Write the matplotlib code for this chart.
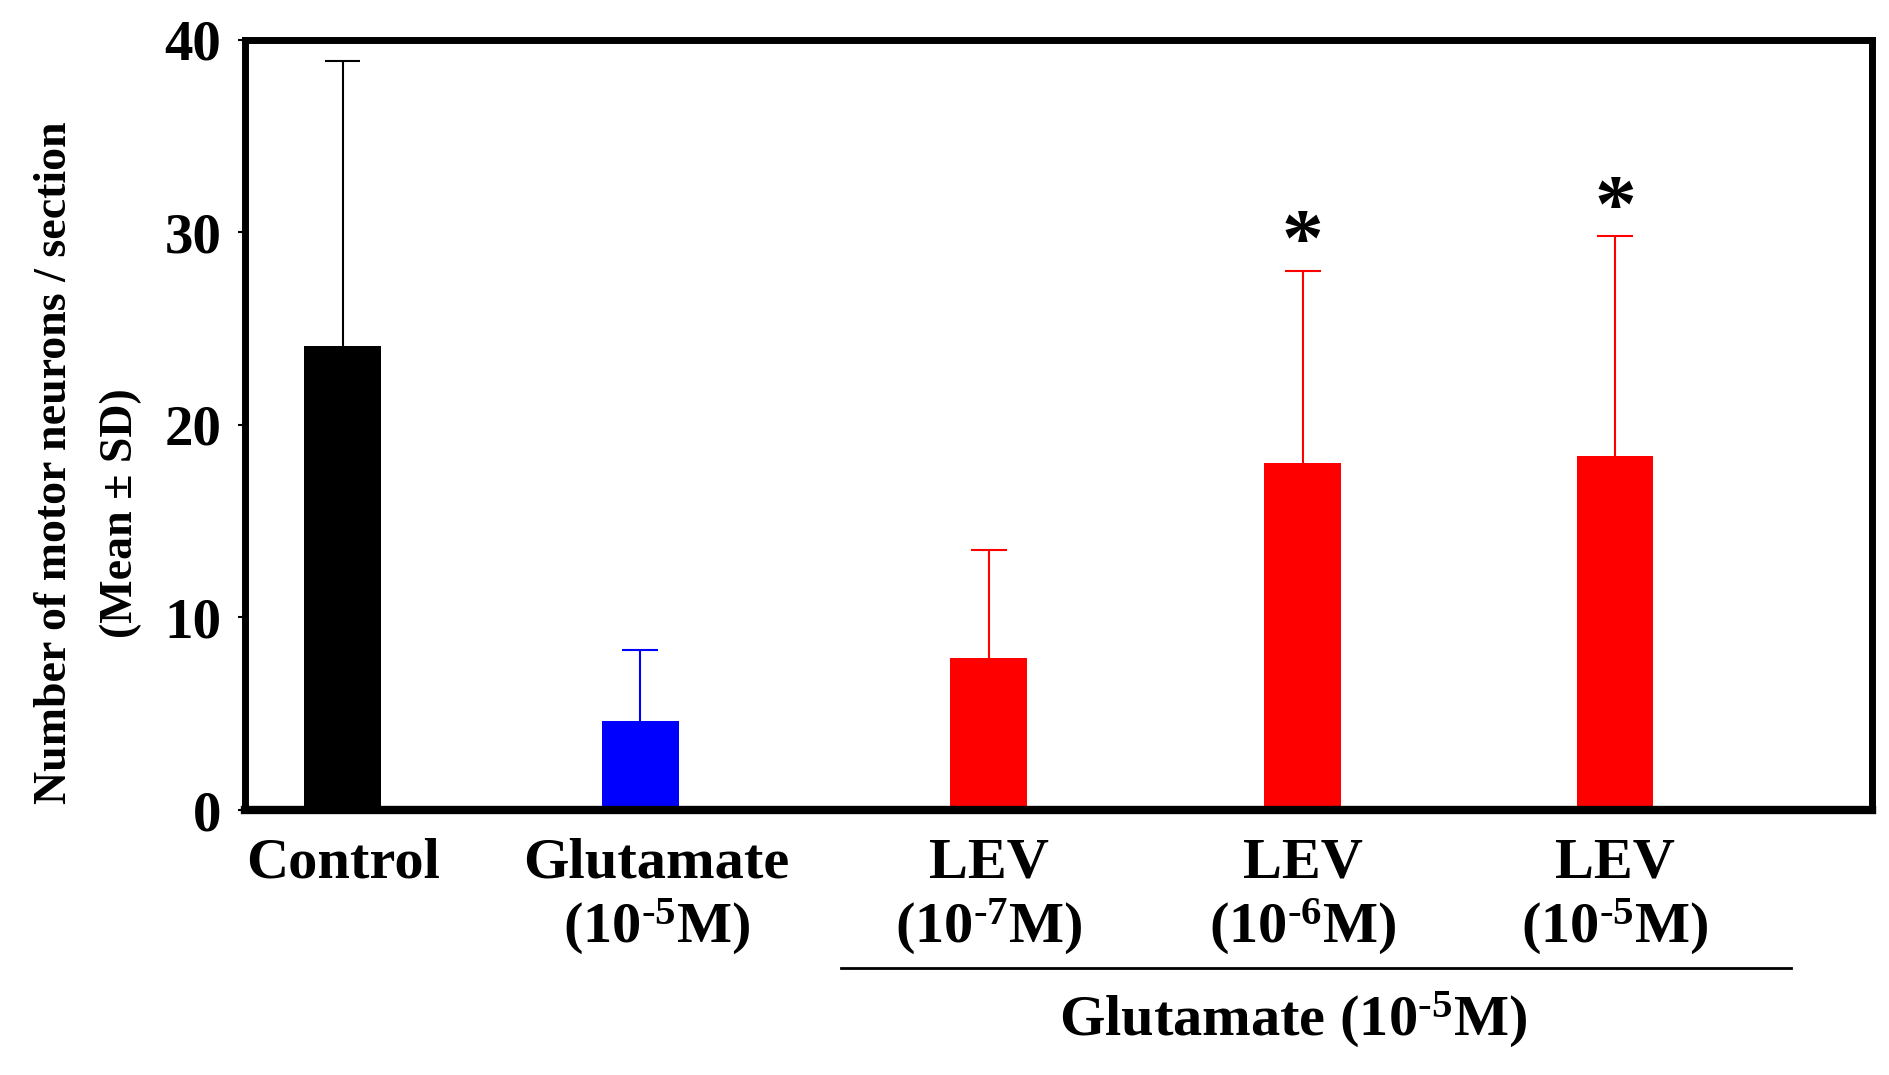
import matplotlib.pyplot as plt
from matplotlib.transforms import ScaledTranslation

plt.rcParams["font.family"] = "Liberation Serif"
plt.rcParams["font.weight"] = "bold"
plt.rcParams["mathtext.fontset"] = "custom"
plt.rcParams["mathtext.rm"] = "Liberation Serif:bold"
plt.rcParams["mathtext.bf"] = "Liberation Serif:bold"
plt.rcParams["mathtext.it"] = "Liberation Serif:bold"

# Data
groups = ["Control", "Glutamate\n(10$^{\\text{-5}}$M)", "LEV\n(10$^{\\text{-7}}$M)",
          "LEV\n(10$^{\\text{-6}}$M)", "LEV\n(10$^{\\text{-5}}$M)"]
means = [24.1, 4.6, 7.9, 18.0, 18.4]
sds = [14.8, 3.7, 5.6, 10.0, 11.4]
colors = ["black", "#0000ff", "#ff0000", "#ff0000", "#ff0000"]
significant = [False, False, False, True, True]
positions = [0.6, 2.43, 4.57, 6.5, 8.42]

fig = plt.figure(figsize=(18.9, 10.75), dpi=100)
ax = fig.add_axes([0.1296, 0.2465, 0.861, 0.7165])

cap = 0.11
for x, m, s, c, sig in zip(positions, means, sds, colors, significant):
    ax.bar(x, m, width=0.47, color=c, zorder=2)
    # upper-only error bar
    ax.vlines(x, m, m + s, color=c, lw=1.5, zorder=3)
    ax.hlines(m + s, x - cap, x + cap, color=c, lw=1.5, zorder=3)
    if sig:
        ax.text(x, m + s + 1.3, "*", ha="center", va="center",
                fontsize=60, fontweight="bold")

ax.set_xlim(0, 10)
ax.set_ylim(0, 40)
ax.set_yticks([0, 10, 20, 30, 40])
ax.set_xticks(positions)
ax.set_xticklabels(groups, fontsize=42, fontweight="bold", linespacing=1.15)
ax.tick_params(axis="x", length=0, pad=20)
ax.tick_params(axis="y", labelsize=41, length=5, width=1.5, pad=12)
for sp in ax.spines.values():
    sp.set_linewidth(5)
ax.spines["bottom"].set_linewidth(6)

# the Glutamate label sits a little right of its bar
lbl = ax.get_xticklabels()[1]
lbl.set_transform(lbl.get_transform() + ScaledTranslation(0.16, 0, fig.dpi_scale_trans))

# group bracket under LEV labels
ax.plot([3.66, 9.5], [-0.205, -0.205], color="black", lw=2,
        transform=ax.get_xaxis_transform(), clip_on=False)
ax.text(6.44, -0.272, "Glutamate (10$^{\\text{-5}}$M)", ha="center", va="center",
        fontsize=42, fontweight="bold", transform=ax.get_xaxis_transform())

fig.text(0.029, 0.57, "Number of motor neurons / section", rotation=90,
         ha="center", va="center", fontsize=33, fontweight="bold")
fig.text(0.064, 0.523, "(Mean ± SD)", rotation=90,
         ha="center", va="center", fontsize=33, fontweight="bold")

fig.savefig("out.png", dpi=100)
